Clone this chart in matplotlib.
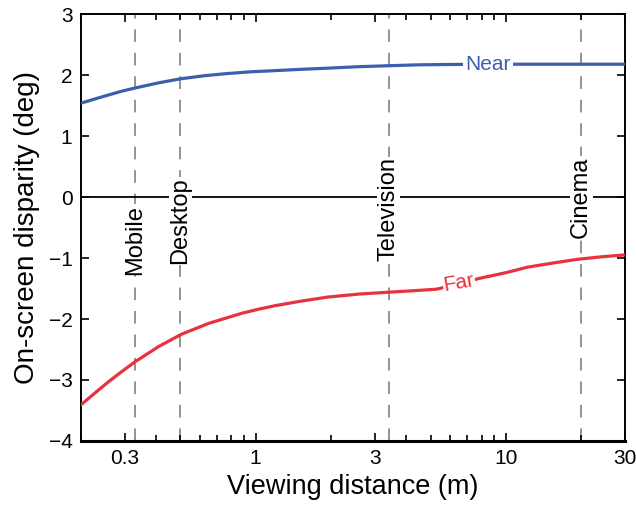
import matplotlib.pyplot as plt
from matplotlib.ticker import FixedLocator, NullFormatter, LogLocator

plt.rcParams['font.family'] = ['Liberation Sans', 'DejaVu Sans']

# values
near_x = [0.2, 0.23, 0.258, 0.29, 0.33, 0.41, 0.5, 0.62, 0.76, 0.95, 1.2, 1.5, 1.94, 2.6, 3.4, 4.5, 5.86, 8, 11, 16, 22, 30]
near_y = [1.54, 1.615, 1.675, 1.735, 1.79, 1.875, 1.94, 1.99, 2.025, 2.055, 2.075, 2.095, 2.115, 2.14, 2.155, 2.17, 2.175, 2.18, 2.18, 2.18, 2.18, 2.18]
far_x = [0.2, 0.23, 0.258, 0.29, 0.33, 0.41, 0.505, 0.65, 0.89, 1.05, 1.2, 1.5, 1.94, 2.6, 3.4, 4.3, 5.3, 6.5, 7.9, 10, 12.2, 15.5, 19.4, 24, 29.5]
far_y = [-3.41, -3.2, -3.03, -2.87, -2.70, -2.45, -2.25, -2.07, -1.90, -1.83, -1.78, -1.71, -1.64, -1.59, -1.56, -1.535, -1.51, -1.42, -1.33, -1.24, -1.15, -1.08, -1.02, -0.98, -0.95]

devices = ["Mobile", "Desktop", "Television", "Cinema"]
device_dist = [0.33, 0.5, 3.4, 20]
label_y = [-0.7, -0.39, -0.2, 0.0]

xticks = [0.3, 1, 3, 10, 30]
xticklabels = ["0.3", "1", "3", "10", "30"]

fig = plt.figure(figsize=(6.36, 5.08), dpi=100)
ax = fig.add_axes([0.127, 0.132, 0.856, 0.840])

# viewing distance markers
for d, name, ly in zip(device_dist, devices, label_y):
    ax.axvline(d, color='#8a8a8a', linestyle=(0, (7, 6)), linewidth=1.3, zorder=1)
    ax.text(d, ly, name, rotation=90, ha='center', va='center', fontsize=17,
            bbox=dict(facecolor='white', edgecolor='none', pad=0.3), zorder=2)

ax.axhline(0, color='black', linewidth=1.3, zorder=1)

ax.plot(near_x, near_y, color='#3b5fae', linewidth=2.3, zorder=3)
ax.plot(far_x, far_y, color='#e8323c', linewidth=2.3, zorder=3)

ax.text(8.5, 2.17, "Near", color='#3b5fae', fontsize=15, ha='center', va='center',
        bbox=dict(facecolor='white', edgecolor='none', pad=1.5), zorder=4)
ax.text(6.5, -1.41, "Far", color='#e8323c', fontsize=15, ha='center', va='center',
        rotation=10, bbox=dict(facecolor='white', edgecolor='none', pad=0.5), zorder=4)

ax.set_xscale('log')
ax.set_xlim(0.2, 30)
ax.set_ylim(-4, 3)
ax.set_yticks(range(-4, 4))
ax.xaxis.set_major_locator(FixedLocator(xticks))
ax.set_xticklabels(xticklabels)
ax.xaxis.set_minor_locator(LogLocator(base=10, subs=range(1, 10)))
ax.xaxis.set_minor_formatter(NullFormatter())

ax.tick_params(which='both', direction='in', top=True, right=True, labelsize=15,
               width=1.2)
ax.tick_params(which='major', length=6, pad=6)
ax.tick_params(which='minor', length=4)
for s in ax.spines.values():
    s.set_linewidth(1.4)
ax.spines['bottom'].set_linewidth(2.2)

ax.set_xlabel("Viewing distance (m)", fontsize=19.5, labelpad=4)
ax.set_ylabel("On-screen disparity (deg)", fontsize=20, labelpad=6)

fig.savefig("out.png", dpi=100)
